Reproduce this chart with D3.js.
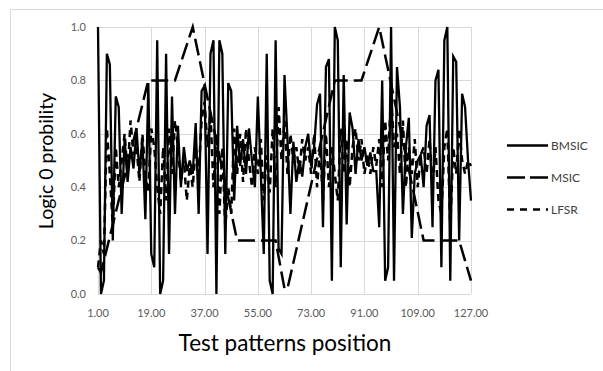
<!DOCTYPE html>
<html><head><meta charset="utf-8">
<script src="https://cdn.jsdelivr.net/npm/d3@7"></script>
<style>body{margin:0;background:#fff}</style></head>
<body><svg id="c" width="603" height="371"></svg>
<script>
const xTicks = [1, 19, 37, 55, 73, 91, 109, 127];
const yTicks = [0, 0.2, 0.4, 0.6, 0.8, 1.0];
const seriesNames = ["BMSIC", "MSIC", "LFSR"];

const bmsic = [1.00,0.00,0.05,0.90,0.86,0.20,0.74,0.70,0.30,0.58,0.42,0.55,0.47,0.62,0.45,0.58,0.28,0.79,0.15,0.10,
0.95,0.00,0.05,0.90,0.15,0.74,0.30,0.63,0.40,0.55,0.46,0.50,0.45,0.64,0.30,0.76,0.78,0.15,0.90,0.95,
0.00,0.95,0.90,0.15,0.79,0.76,0.35,0.63,0.48,0.58,0.45,0.62,0.50,0.40,0.74,0.45,0.15,0.90,0.05,0.00,
0.95,0.17,0.15,0.82,0.58,0.30,0.57,0.42,0.50,0.44,0.55,0.60,0.48,0.55,0.71,0.75,0.25,0.85,0.88,0.05,
1.00,0.95,0.10,0.82,0.26,0.68,0.62,0.45,0.58,0.50,0.55,0.48,0.53,0.46,0.46,0.25,0.80,0.05,0.10,1.00,
0.05,0.85,0.70,0.30,0.55,0.66,0.21,0.45,0.50,0.52,0.40,0.63,0.67,0.25,0.80,0.84,0.10,0.95,1.00,0.05,
0.89,0.87,0.20,0.75,0.70,0.50,0.35];

const lfsr = [0.10,0.20,0.15,0.62,0.45,0.25,0.55,0.40,0.50,0.60,0.45,0.65,0.52,0.55,0.42,0.60,0.45,0.38,0.62,0.55,
0.40,0.30,0.55,0.35,0.62,0.45,0.65,0.55,0.42,0.50,0.35,0.48,0.40,0.55,0.45,0.65,0.72,0.55,0.68,0.40,
0.60,0.30,0.55,0.25,0.40,0.30,0.62,0.45,0.60,0.42,0.62,0.50,0.40,0.55,0.45,0.58,0.35,0.52,0.38,0.62,
0.40,0.70,0.50,0.65,0.45,0.60,0.50,0.55,0.45,0.58,0.50,0.55,0.45,0.60,0.40,0.55,0.35,0.60,0.40,0.55,
0.45,0.35,0.62,0.45,0.58,0.40,0.55,0.62,0.50,0.58,0.45,0.52,0.45,0.55,0.48,0.58,0.40,0.65,0.50,0.75,
0.55,0.60,0.45,0.65,0.40,0.55,0.45,0.58,0.40,0.52,0.55,0.45,0.58,0.40,0.55,0.35,0.30,0.55,0.62,0.25,
0.55,0.45,0.62,0.50,0.45,0.50,0.48];

// MSIC is a piecewise-linear series; its corner points
const msicX = [1, 2, 18, 27, 33, 48, 61, 64, 65, 81, 90, 96, 111, 123, 127];
const msicY = [0.10, 0.08, 0.80, 0.80, 1.00, 0.20, 0.20, 0.02, 0.02, 0.80, 0.80, 1.00, 0.20, 0.20, 0.05];

const svg = d3.select("#c");
const m = {l: 98, r: 471, t: 27, b: 294};

svg.append("rect").attr("x", 10.5).attr("y", 9.5).attr("width", 600).attr("height", 370)
  .attr("fill", "none").attr("stroke", "#d9d9d9");

const x = d3.scaleLinear().domain([1, 127]).range([m.l, m.r]);
const y = d3.scaleLinear().domain([0, 1]).range([m.b, m.t]);

const grid = svg.append("g");
grid.selectAll("line.h").data(yTicks).join("line")
  .attr("x1", m.l).attr("x2", m.r)
  .attr("y1", d => Math.round(y(d)) + 0.5).attr("y2", d => Math.round(y(d)) + 0.5)
  .attr("stroke", "#d9d9d9");
grid.selectAll("line.v").data(xTicks).join("line")
  .attr("y1", m.t).attr("y2", m.b)
  .attr("x1", d => Math.round(x(d)) + 0.5).attr("x2", d => Math.round(x(d)) + 0.5)
  .attr("stroke", "#d9d9d9");

const font = "Lato, 'Open Sans', sans-serif";
svg.append("g").selectAll("text").data(yTicks).join("text")
  .attr("x", 86).attr("y", d => y(d)).attr("dy", "0.35em")
  .attr("text-anchor", "end").attr("font-family", font).attr("font-size", 11).attr("fill", "#595959")
  .text(d => d.toFixed(1));
svg.append("g").selectAll("text").data(xTicks).join("text")
  .attr("x", d => x(d)).attr("y", 313).attr("dy", "0.35em")
  .attr("text-anchor", "middle").attr("font-family", font).attr("font-size", 11).attr("fill", "#595959")
  .text(d => d.toFixed(2));

svg.append("text").attr("transform", "translate(46,161) rotate(-90)")
  .attr("text-anchor", "middle").attr("dy", "0.35em")
  .attr("font-family", font).attr("font-size", 19.5).attr("fill", "#000").text("Logic 0 probility");
svg.append("text").attr("x", 285).attr("y", 343).attr("dy", "0.35em")
  .attr("text-anchor", "middle")
  .attr("font-family", font).attr("font-size", 22.5).attr("fill", "#000").text("Test patterns position");

const line = d3.line().x(d => x(d[0])).y(d => y(d[1]));
const plot = svg.append("g");
plot.append("path").datum(msicX.map((v, i) => [v, msicY[i]]))
  .attr("d", line).attr("fill", "none").attr("stroke", "#000").attr("stroke-width", 2.5)
  .attr("stroke-dasharray", "17,6");
plot.append("path").datum(lfsr.map((v, i) => [i + 1, v]))
  .attr("d", line).attr("fill", "none").attr("stroke", "#000").attr("stroke-width", 2.5)
  .attr("stroke-dasharray", "7,5");
plot.append("path").datum(bmsic.map((v, i) => [i + 1, v]))
  .attr("d", line).attr("fill", "none").attr("stroke", "#000").attr("stroke-width", 2.3);

const leg = svg.append("g");
const legY = [145.5, 177.5, 209.5];
seriesNames.forEach((n, i) => {
  leg.append("line").attr("x1", 507).attr("x2", 548).attr("y1", legY[i]).attr("y2", legY[i])
    .attr("stroke", "#000").attr("stroke-width", 2.5)
    .attr("stroke-dasharray", i === 1 ? "18,5" : i === 2 ? "7,6" : null);
  leg.append("text").attr("x", 551).attr("y", legY[i]).attr("dy", "0.35em")
    .attr("font-family", font).attr("font-size", 12).attr("fill", "#404040").text(n);
});
</script></body></html>
